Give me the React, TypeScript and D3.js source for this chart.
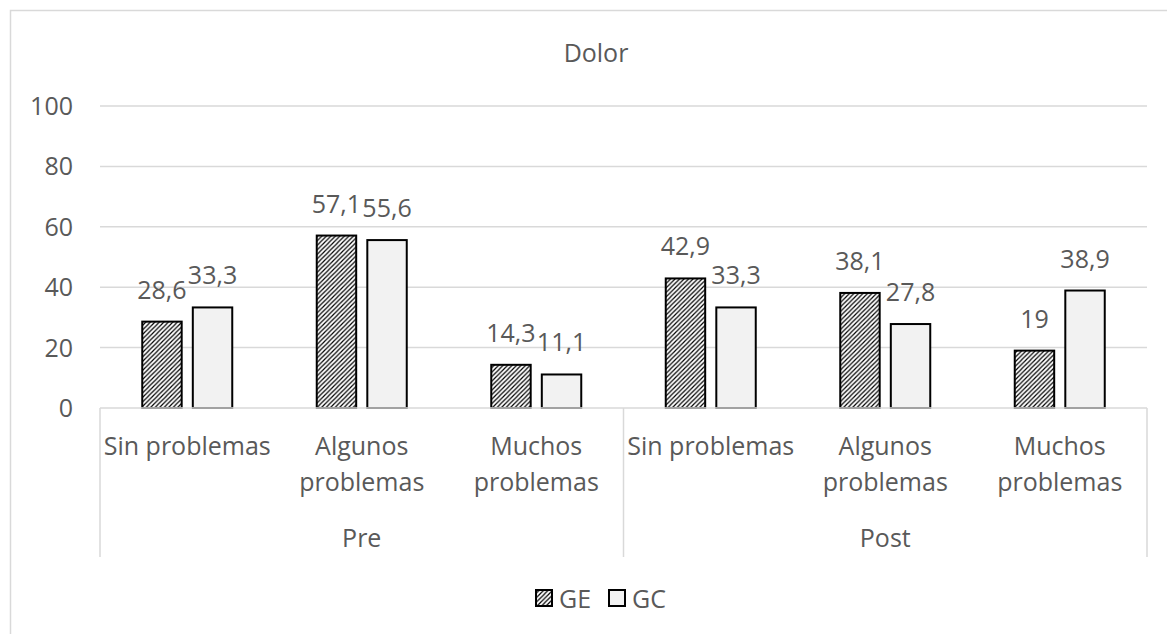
import React from "react";
import * as d3 from "d3";

const title = "Dolor";
const groups = ["Pre", "Post"];
const subCategories = ["Sin problemas", "Algunos problemas", "Muchos problemas"];
const seriesNames = ["GE", "GC"];
const geValues = [28.6, 57.1, 14.3, 42.9, 38.1, 19];
const gcValues = [33.3, 55.6, 11.1, 33.3, 27.8, 38.9];
const yTicks = [0, 20, 40, 60, 80, 100];

const W = 1167;
const H = 634;
const FONT = "'Open Sans', 'DejaVu Sans', sans-serif";
const TXT = "#595959";
const GRID = "#d9d9d9";

export default function App() {
  const left = 100;
  const right = 1147;
  const y0 = 408;
  const y100 = 106;
  const cats = groups.flatMap((g) => subCategories.map((s) => `${g}|${s}`));
  const x = d3.scaleBand<string>().domain(cats).range([left, right]).padding(0);
  const bw = x.bandwidth();
  const xs = d3
    .scaleBand<string>()
    .domain(seriesNames)
    .range([bw / 2 - 45, bw / 2 + 45])
    .paddingInner(0.22);
  const y = d3.scaleLinear().domain([0, 100]).range([y0, y100]);
  const gx = d3.scaleBand<string>().domain(groups).range([left, right]).padding(0);
  const fmt = (v: number) => String(v).replace(".", ",");
  const series = [
    { name: "GE", values: geValues, fill: "url(#hatch)" },
    { name: "GC", values: gcValues, fill: "#f2f2f2" },
  ];

  return (
    <svg
      width={W}
      height={H}
      style={{ position: "absolute", left: 0, top: 0, background: "#fff" }}
      fontFamily={FONT}
    >
      <defs>
        <pattern id="hatch" patternUnits="userSpaceOnUse" width="4.5" height="4.5">
          <rect width="4.5" height="4.5" fill="#fff" />
          <path d="M-1,5.5 L5.5,-1 M-1,1 L1,-1 M3.5,5.5 L5.5,3.5" stroke="#000" strokeWidth="1.2" />
        </pattern>
      </defs>
      <rect x={10.5} y={10.5} width={1200} height={700} fill="#fff" stroke={GRID} strokeWidth={1.5} />
      <text x={596} y={62} textAnchor="middle" fontSize={25} fill={TXT}>
        {title}
      </text>
      {yTicks.map((t) => (
        <g key={t}>
          {t > 0 && (
            <line x1={left} x2={right} y1={y(t)} y2={y(t)} stroke={GRID} strokeWidth={1.5} />
          )}
          <text x={73} y={y(t) + 9} textAnchor="end" fontSize={25} fill={TXT}>
            {t}
          </text>
        </g>
      ))}
      {series.map((s) =>
        s.values.map((v, i) => {
          const cx = (x(cats[i]) as number) + (xs(s.name) as number);
          return (
            <rect
              key={s.name + i}
              x={cx}
              y={y(v)}
              width={xs.bandwidth()}
              height={y(0) - y(v)}
              fill={s.fill}
              stroke="#000"
              strokeWidth={2}
            />
          );
        })
      )}
      <line x1={left} x2={right} y1={y0} y2={y0} stroke={GRID} strokeWidth={1.5} />
      {[left, (gx("Post") as number), right].map((vx, i) => (
        <line key={i} x1={vx} x2={vx} y1={y0} y2={557} stroke={GRID} strokeWidth={1.5} />
      ))}
      {series.map((s) =>
        s.values.map((v, i) => {
          const cx = (x(cats[i]) as number) + (xs(s.name) as number) + xs.bandwidth() / 2;
          return (
            <text
              key={"l" + s.name + i}
              x={cx}
              y={y(v) - 23}
              textAnchor="middle"
              fontSize={25}
              fill={TXT}
            >
              {fmt(v)}
            </text>
          );
        })
      )}
      {cats.map((c) => {
        const label = c.split("|")[1];
        const lines = label.length > 13 ? [label.slice(0, label.indexOf(" ")), label.slice(label.indexOf(" ") + 1)] : [label];
        const cx = (x(c) as number) + bw / 2;
        return (
          <text key={c} x={cx} y={455} textAnchor="middle" fontSize={25} fill={TXT}>
            {lines.map((l, k) => (
              <tspan key={k} x={cx} dy={k === 0 ? 0 : 36}>
                {l}
              </tspan>
            ))}
          </text>
        );
      })}
      {groups.map((g) => (
        <text
          key={g}
          x={(gx(g) as number) + gx.bandwidth() / 2}
          y={547}
          textAnchor="middle"
          fontSize={25}
          fill={TXT}
        >
          {g}
        </text>
      ))}
      {series.map((s, i) => {
        const lx = 536 + i * 73;
        return (
          <g key={"lg" + s.name}>
            <rect x={lx} y={590} width={16} height={16} fill={s.fill} stroke="#000" strokeWidth={2} />
            <text x={lx + 23} y={608} fontSize={25} fill={TXT}>
              {s.name}
            </text>
          </g>
        );
      })}
    </svg>
  );
}
